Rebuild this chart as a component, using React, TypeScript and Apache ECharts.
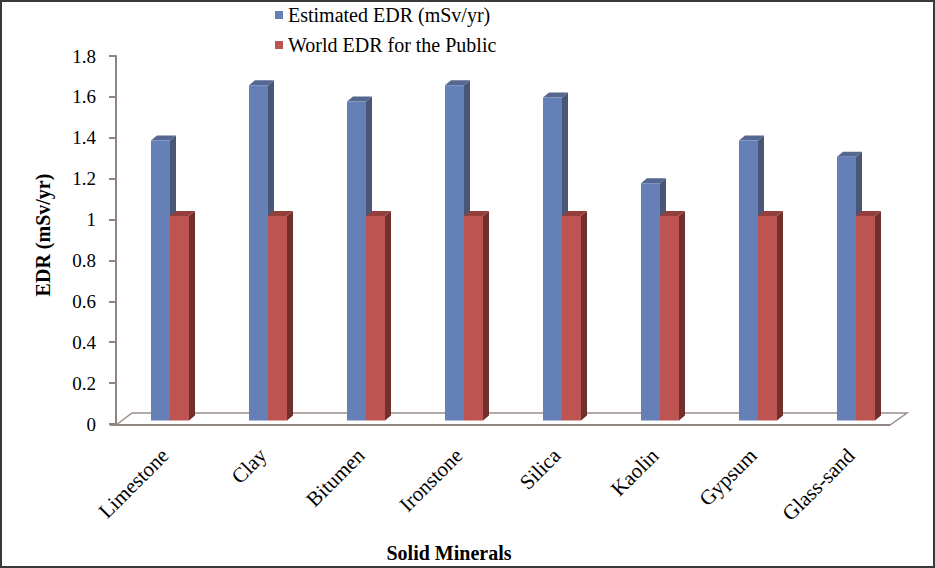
import React, { useEffect, useRef } from "react";
import * as echarts from "echarts";

const categories = ["Limestone", "Clay", "Bitumen", "Ironstone", "Silica", "Kaolin", "Gypsum", "Glass-sand"];
const estimatedEDR = [1.37, 1.64, 1.56, 1.64, 1.58, 1.16, 1.37, 1.29];
const worldEDR = [1, 1, 1, 1, 1, 1, 1, 1];
const seriesNames = ["Estimated EDR (mSv/yr)", "World EDR for the Public"];
const yTicks = { min: 0, max: 1.8, interval: 0.2 };
const yTitle = "EDR (mSv/yr)";
const xTitle = "Solid Minerals";

const FONT = "'Liberation Serif', 'Times New Roman', serif";
const DX = 5;
const DY = -3.5;
const DEPTH_X = 6;
const DEPTH_Y = -5;

function make3DSeries(name: string, values: number[], slot: number, front: string, side: string, top: string) {
  return {
    type: "custom",
    name,
    z: 5,
    itemStyle: { color: front },
    encode: { x: 0, y: 1 },
    data: values.map((v, i) => [i, v]),
    renderItem: (params: any, api: any) => {
      const idx = api.value(0);
      const val = api.value(1);
      const base = api.coord([idx, 0]);
      const topPt = api.coord([idx, val]);
      const band = api.size([1, 0])[0];
      const w = band * 0.194;
      const x0 = base[0] + DX + slot * w;
      const x1 = x0 + w;
      const yb = base[1] + DY;
      const yt = topPt[1] + DY;
      return {
        type: "group",
        children: [
          {
            type: "polygon",
            shape: { points: [[x1, yb], [x1 + DEPTH_X, yb + DEPTH_Y], [x1 + DEPTH_X, yt + DEPTH_Y], [x1, yt]] },
            style: { fill: side },
          },
          {
            type: "polygon",
            shape: { points: [[x0, yt], [x0 + DEPTH_X, yt + DEPTH_Y], [x1 + DEPTH_X, yt + DEPTH_Y], [x1, yt]] },
            style: { fill: top },
          },
          {
            type: "rect",
            shape: { x: x0, y: yt, width: w, height: yb - yt },
            style: { fill: front },
          },
        ],
      };
    },
  };
}

export default function App() {
  const ref = useRef<HTMLDivElement>(null);
  useEffect(() => {
    if (!ref.current) return;
    const chart = echarts.init(ref.current, undefined, { renderer: "svg" });
    const option: any = {
      animation: false,
      backgroundColor: "#ffffff",
      textStyle: { fontFamily: FONT },
      legend: {
        data: seriesNames,
        orient: "vertical",
        left: 270,
        top: 0,
        itemWidth: 8,
        itemHeight: 8,
        itemGap: 10,
        icon: "rect",
        textStyle: { fontFamily: FONT, fontSize: 20, color: "#000" },
      },
      grid: { left: 116, top: 56, width: 784, height: 368 },
      xAxis: {
        type: "category",
        data: categories,
        axisLine: { show: false },
        axisTick: { show: false },
        axisLabel: { rotate: 45, fontSize: 21, fontFamily: FONT, color: "#000", margin: 28 },
        splitLine: { show: false },
      },
      yAxis: {
        type: "value",
        min: yTicks.min,
        max: yTicks.max,
        interval: yTicks.interval,
        axisLine: { show: true, lineStyle: { color: "#8e8480", width: 2 } },
        axisTick: { show: true, length: 7, lineStyle: { color: "#8e8480", width: 2 } },
        axisLabel: { fontSize: 19, fontFamily: FONT, color: "#000", margin: 20 },
        splitLine: { show: false },
      },
      graphic: [
        {
          type: "rect",
          z: -10,
          shape: { x: 1, y: 1, width: 933, height: 566 },
          style: { fill: "none", stroke: "#3a3a3a", lineWidth: 2 },
        },
        {
          type: "polygon",
          z: 0,
          shape: { points: [[116, 425], [132, 413], [907, 413], [890, 425]] },
          style: { fill: "#ffffff", stroke: "#9a8f8b", lineWidth: 1.5 },
        },
        {
          type: "line",
          z: 0,
          shape: { x1: 110, y1: 425, x2: 890, y2: 425 },
          style: { stroke: "#8e8480", lineWidth: 2 },
        },
        {
          type: "text",
          z: 10,
          x: 43,
          y: 235,
          rotation: Math.PI / 2,
          style: {
            text: yTitle,
            fontFamily: FONT,
            fontSize: 20,
            fontWeight: "bold",
            fill: "#000",
            align: "center",
            verticalAlign: "middle",
          },
        },
        {
          type: "text",
          z: 10,
          x: 449,
          y: 553,
          style: {
            text: xTitle,
            fontFamily: FONT,
            fontSize: 20,
            fontWeight: "bold",
            fill: "#000",
            align: "center",
            verticalAlign: "middle",
          },
        },
      ],
      series: [
        make3DSeries(seriesNames[0], estimatedEDR, -1, "#6580b7", "#4a5676", "#55668f"),
        make3DSeries(seriesNames[1], worldEDR, 0, "#be5451", "#6f302e", "#93403d"),
      ],
    };
    chart.setOption(option);
    return () => chart.dispose();
  }, []);
  return <div ref={ref} style={{ position: "fixed", left: 0, top: 0, width: 935, height: 568 }} />;
}
